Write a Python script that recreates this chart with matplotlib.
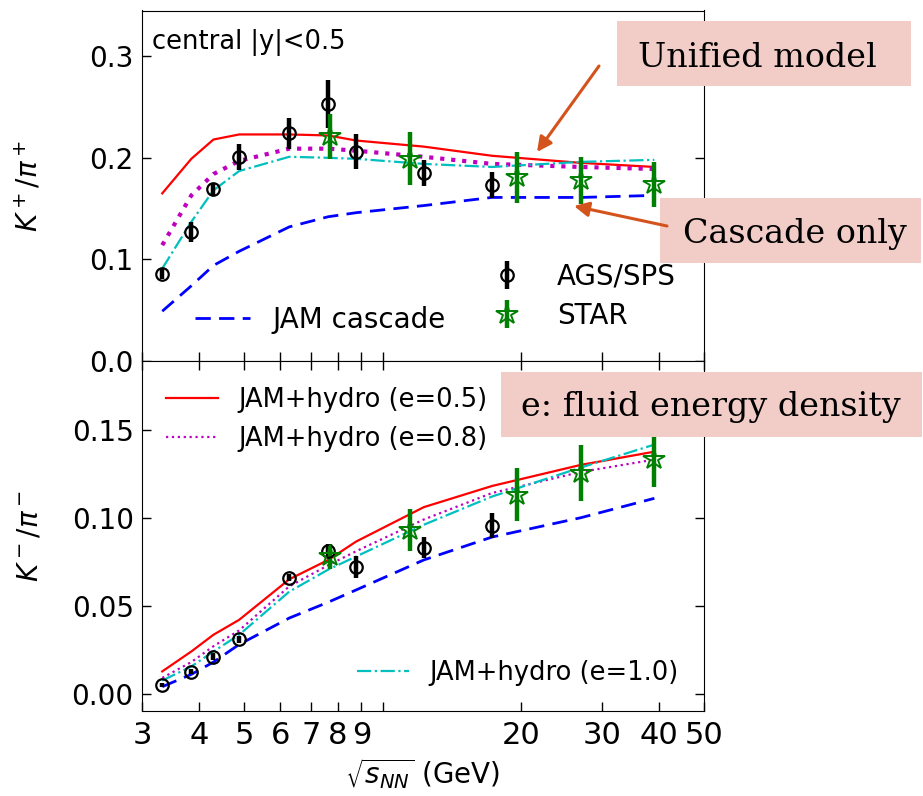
import matplotlib.pyplot as plt
from matplotlib.patches import Rectangle, FancyArrowPatch
from matplotlib.ticker import FixedLocator, FixedFormatter, NullLocator

# collision energies sqrt(s_NN) in GeV
sqrt_s_ags = [3.32, 3.84, 4.29, 4.88, 6.27, 7.62, 8.77, 12.3, 17.3]
sqrt_s_star = [7.7, 11.5, 19.6, 27.0, 39.0]
sqrt_s_model = [3.32, 3.84, 4.29, 4.88, 6.27, 7.62, 8.77, 12.3, 17.3, 27.0, 39.0]

# K+/pi+
kp_ags = [0.086, 0.127, 0.169, 0.201, 0.224, 0.253, 0.206, 0.185, 0.173]
kp_ags_err = [0.005, 0.010, 0.006, 0.013, 0.015, 0.024, 0.017, 0.013, 0.013]
kp_star = [0.221, 0.199, 0.181, 0.178, 0.174]
kp_star_err = [0.022, 0.026, 0.025, 0.023, 0.022]
kp_cascade = [0.049, 0.074, 0.094, 0.108, 0.132, 0.142, 0.146, 0.153, 0.161, 0.161, 0.163]
kp_hydro05 = [0.165, 0.199, 0.218, 0.223, 0.223, 0.222, 0.217, 0.211, 0.202, 0.195, 0.191]
kp_hydro08 = [0.114, 0.163, 0.184, 0.197, 0.209, 0.209, 0.207, 0.201, 0.194, 0.191, 0.189]
kp_hydro10 = [0.091, 0.137, 0.168, 0.187, 0.201, 0.200, 0.199, 0.194, 0.191, 0.196, 0.198]

# K-/pi-
km_ags = [0.0051, 0.0125, 0.021, 0.031, 0.066, 0.081, 0.072, 0.083, 0.0955]
km_ags_err = [0.001, 0.0015, 0.002, 0.002, 0.002, 0.004, 0.006, 0.006, 0.007]
km_star = [0.078, 0.093, 0.113, 0.1255, 0.1335]
km_star_err = [0.007, 0.012, 0.015, 0.016, 0.016]
km_cascade = [0.004, 0.011, 0.018, 0.028, 0.043, 0.052, 0.059, 0.076, 0.089, 0.100, 0.111]
km_hydro05 = [0.0127, 0.024, 0.0335, 0.042, 0.065, 0.076, 0.0865, 0.106, 0.118, 0.130, 0.1375]
km_hydro08 = [0.009, 0.018, 0.027, 0.036, 0.061, 0.073, 0.081, 0.099, 0.114, 0.126, 0.133]
km_hydro10 = [0.0075, 0.0155, 0.024, 0.0335, 0.058, 0.0705, 0.078, 0.096, 0.112, 0.1285, 0.1415]

x_ticks = [3, 4, 5, 6, 7, 8, 9, 10, 20, 30, 40, 50]
x_ticklabels = ['3', '4', '5', '6', '7', '8', '9', '', '20', '30', '40', '50']

W, H = 923, 796
fig = plt.figure(figsize=(W / 100, H / 100), dpi=100)
ax1 = fig.add_axes([142 / W, 1 - 361 / H, 562 / W, 350.5 / H])
ax2 = fig.add_axes([142 / W, 1 - 711 / H, 562 / W, 350 / H], sharex=ax1)


def draw_models(ax, cas, h05, h08, h10, dotw):
    l_cas, = ax.plot(sqrt_s_model, cas, color='b', lw=2, dashes=(5.5, 3), label='JAM cascade')
    l05, = ax.plot(sqrt_s_model, h05, color='r', lw=1.6, label='JAM+hydro (e=0.5)')
    l08, = ax.plot(sqrt_s_model, h08, color='m', lw=dotw, ls=':', label='JAM+hydro (e=0.8)')
    l10, = ax.plot(sqrt_s_model, h10, color='c', lw=1.6, ls='-.', label='JAM+hydro (e=1.0)')
    return l_cas, l05, l08, l10


def draw_data(ax, ags, ags_err, star, star_err):
    e1 = ax.errorbar(sqrt_s_ags, ags, yerr=ags_err, fmt='o', color='k', mfc='none',
                     ms=9, mew=1.6, elinewidth=3.2, capsize=0, label='AGS/SPS')
    e2 = ax.errorbar(sqrt_s_star, star, yerr=star_err, fmt='*', color='g', mfc='none',
                     ms=16, mew=1.4, elinewidth=3.2, capsize=0, label='STAR')
    return e1, e2


top_lines = draw_models(ax1, kp_cascade, kp_hydro05, kp_hydro08, kp_hydro10, 3)
top_data = draw_data(ax1, kp_ags, kp_ags_err, kp_star, kp_star_err)
bot_lines = draw_models(ax2, km_cascade, km_hydro05, km_hydro08, km_hydro10, 1.6)
draw_data(ax2, km_ags, km_ags_err, km_star, km_star_err)

ax2.set_xscale('log')
ax2.set_xlim(3, 50)
ax2.xaxis.set_major_locator(FixedLocator(x_ticks))
ax2.xaxis.set_major_formatter(FixedFormatter(x_ticklabels))
ax2.xaxis.set_minor_locator(NullLocator())

ax1.set_ylim(0, 0.345)
ax1.set_yticks([0.0, 0.1, 0.2, 0.3])
ax1.set_yticklabels(['0.0', '0.1', '0.2', '0.3'])
ax2.set_ylim(-0.0098, 0.189)
ax2.set_yticks([0.0, 0.05, 0.10, 0.15])
ax2.set_yticklabels(['0.00', '0.05', '0.10', '0.15'])

ax1.tick_params(direction='in', length=6.5, width=1, labelsize=20, right=True,
                labelbottom=False, pad=6)
ax2.tick_params(direction='in', length=6.5, width=1, labelsize=20, right=True, top=True, pad=6)
ax2.tick_params(axis='x', pad=7, labelsize=22)

ax1.set_ylabel(r'$K^+/\pi^+$', fontsize=20)
ax2.set_ylabel(r'$K^-/\pi^-$', fontsize=20)
ax1.yaxis.set_label_coords(-0.175, 0.5)
ax2.yaxis.set_label_coords(-0.175, 0.5)
ax2.set_xlabel(r'$\sqrt{s_{NN}}$ (GeV)', fontsize=20, labelpad=5)

ax1.text(0.018, 0.909, 'central |y|<0.5', transform=ax1.transAxes, fontsize=18.5, va='center')

leg1 = ax1.legend(handles=[top_lines[0]], loc='center left', bbox_to_anchor=(0.094, 0.117),
                  frameon=False, fontsize=20, borderpad=0, borderaxespad=0)
ax1.add_artist(leg1)
ax1.legend(handles=list(top_data), loc='center left', bbox_to_anchor=(0.6, 0.184),
           frameon=False, fontsize=20, borderpad=0, borderaxespad=0, labelspacing=0.4)

leg2 = ax2.legend(handles=[bot_lines[1], bot_lines[2]], loc='center left',
                  bbox_to_anchor=(0.043, 0.833), frameon=False, fontsize=18.5,
                  borderpad=0, borderaxespad=0, labelspacing=0.5)
ax2.add_artist(leg2)
ax2.legend(handles=[bot_lines[3]], loc='center left', bbox_to_anchor=(0.383, 0.109),
           frameon=False, fontsize=18.5, borderpad=0, borderaxespad=0)


def fx(px):
    return px / W


def fy(py):
    return 1 - py / H


pink = '#f2cdc7'
arrow_col = '#d4531c'
boxes = [
    ((617, 21, 911, 86), 'Unified model', 757, 67),
    ((660, 198, 921, 263), 'Cascade only', 795, 243),
    ((501, 372, 922, 437), 'e: fluid energy density', 711, 416),
]
for (x0, y0, x1, y1), txt, tx, ty in boxes:
    fig.add_artist(Rectangle((fx(x0), fy(y1)), fx(x1) - fx(x0), fy(y0) - fy(y1),
                             transform=fig.transFigure, facecolor=pink, edgecolor='none', zorder=5))
    fig.text(fx(tx), fy(ty), txt, family='DejaVu Serif', fontsize=24, ha='center',
             va='baseline', zorder=6)

for (ax_, ay_), (bx_, by_) in [((599, 66), (537, 152)), ((667, 226), (574, 206))]:
    fig.add_artist(FancyArrowPatch((fx(ax_), fy(ay_)), (fx(bx_), fy(by_)),
                                   transform=fig.transFigure, arrowstyle='-|>',
                                   mutation_scale=22, lw=2.2, color=arrow_col,
                                   shrinkA=0, shrinkB=0, zorder=6))

fig.savefig('out.png', dpi=100)
